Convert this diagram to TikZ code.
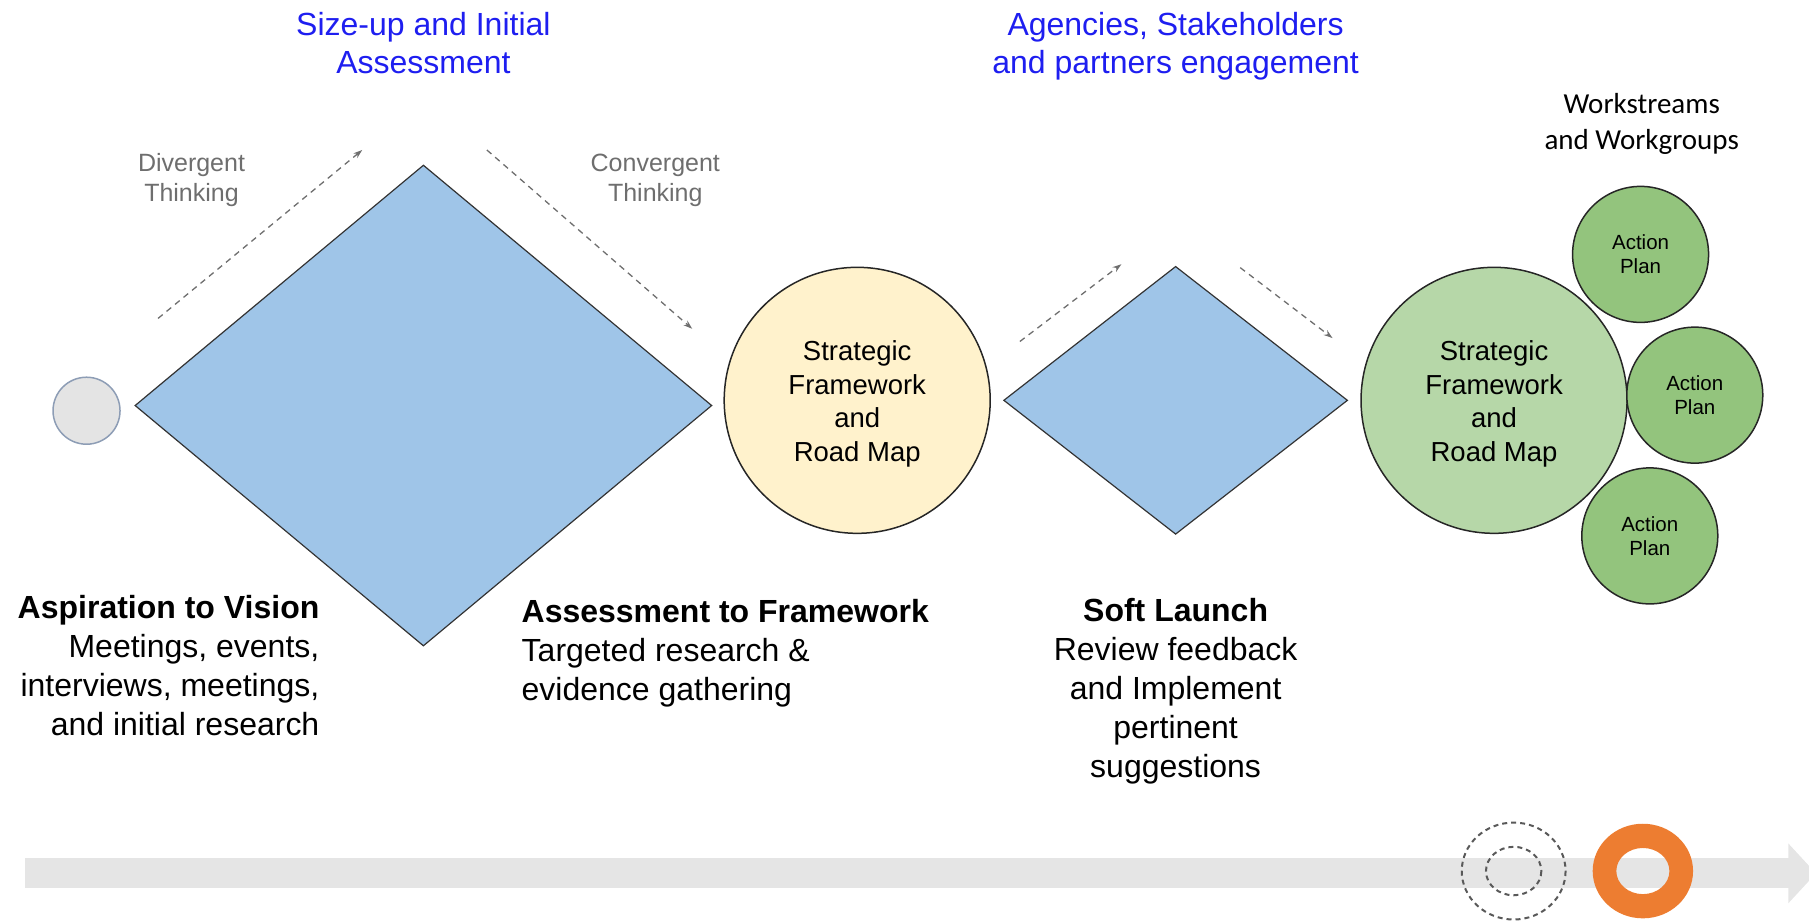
\documentclass[tikz,border=0pt]{standalone}
\usepackage{fontspec}
\setmainfont{Liberation Sans}
\newfontfamily\calfont{Carlito}
\usetikzlibrary{shapes.geometric,arrows.meta}
\definecolor{dblue}{HTML}{9FC5E8}
\definecolor{lyellow}{HTML}{FFF2CC}
\definecolor{lgreen}{HTML}{B6D7A8}
\definecolor{mgreen}{HTML}{93C47D}
\definecolor{tblue}{RGB}{30,30,240}
\definecolor{tlgray}{HTML}{E5E5E5}
\definecolor{orng}{HTML}{ED7D31}
\definecolor{startfill}{HTML}{E4E4E4}
\definecolor{startdraw}{HTML}{8D9DB5}
\definecolor{thinkgray}{HTML}{6E6E6E}
\tikzset{
  dia/.style={diamond, draw=black!80, line width=1.2pt, fill=dblue, inner sep=0pt},
  circ/.style={circle, draw=black!85, line width=1.5pt, inner sep=0pt, minimum size=266pt},
  circtext/.style={inner sep=0pt, align=center, font=\fontsize{27.5}{33.5}\selectfont, yshift=-3.5pt},
  apcirc/.style={circle, draw=black!85, line width=1.5pt, inner sep=0pt, align=center, fill=mgreen, minimum size=136pt, font=\fontsize{20.5}{24}\selectfont},
  darrow/.style={draw=thinkgray, line width=1.3pt, dash pattern=on 6pt off 5pt, -{Stealth[length=9pt,width=6pt]}},
  ttl/.style={text=tblue, align=center, font=\fontsize{32}{38}\selectfont, inner sep=0pt},
  think/.style={text=thinkgray, align=center, font=\fontsize{25}{30}\selectfont, inner sep=0pt},
  body/.style={inner sep=0pt, font=\fontsize{32}{39}\selectfont}
}
\begin{document}
\begin{tikzpicture}[x=1.1537pt,y=-1.1537pt]
\useasboundingbox (0,0) rectangle (1568,799);

% timeline
\fill[tlgray] (22,744) rectangle (1551,770);
\fill[tlgray] (1550,731) -- (1574,757) -- (1550,783) -- cycle;
\draw[draw=black!65, line width=2pt, dash pattern=on 5pt off 4pt] (1312,755) ellipse [x radius=45, y radius=42];
\draw[draw=black!65, line width=2pt, dash pattern=on 5pt off 4pt] (1312,755) ellipse [x radius=24, y radius=21];
\fill[orng, even odd rule] (1424,755) ellipse [x radius=43.5, y radius=41] (1424,755) ellipse [x radius=23, y radius=20];

% titles
\node[ttl] (t1) at (367,37.5) {Size-up and Initial\\Assessment};
\node[ttl] (t2) at (1019,40.5) {Agencies, Stakeholders\\and partners engagement};
\node[inner sep=0pt, align=center, font=\calfont\fontsize{29}{36}\selectfont] (t3) at (1423,107.5) {Workstreams\\and Workgroups};

% thinking labels
\node[think] (dv) at (166,156) {Divergent\\Thinking};
\node[think] (cv) at (568,156) {Convergent\\Thinking};

% shapes
\node[circle, draw=startdraw, line width=1.5pt, fill=startfill, minimum size=67pt, inner sep=0pt] (start) at (75,356) {};
\node[dia, minimum width=577pt, minimum height=481pt] (d1) at (367,351.5) {};
\node[circ, fill=lyellow, label={[circtext]center:Strategic\\Framework\\and\\Road Map}] (sf1) at (743,347) {};
\node[dia, minimum width=344pt, minimum height=268pt] (d2) at (1019,347) {};
\node[circ, fill=lgreen, label={[circtext]center:Strategic\\Framework\\and\\Road Map}] (sf2) at (1295,347) {};
\node[apcirc] (ap1) at (1422,220.5) {Action\\Plan};
\node[apcirc] (ap2) at (1469,342.5) {Action\\Plan};
\node[apcirc] (ap3) at (1430,464.5) {Action\\Plan};

% dashed arrows
\coordinate (a1s) at (137,276); \coordinate (a1e) at (314,130);
\coordinate (a2s) at (422,130); \coordinate (a2e) at (600,285);
\coordinate (a3s) at (884,296); \coordinate (a3e) at (972,229);
\coordinate (a4s) at (1075,232); \coordinate (a4e) at (1155,293);
\draw[darrow] (a1s) -- (a1e);
\draw[darrow] (a2s) -- (a2e);
\draw[darrow] (a3s) -- (a3e);
\draw[darrow] (a4s) -- (a4e);

% bottom texts
\node[body, anchor=east, align=right] (b1) at (277,577) {\textbf{Aspiration to Vision}\\Meetings, events,\\interviews, meetings,\\and initial research};
\node[body, anchor=west, align=left] (b2) at (452,566) {\textbf{Assessment to Framework}\\Targeted research \&\\evidence gathering};
\node[body, align=center] (b3) at (1019,599.5) {\textbf{Soft Launch}\\Review feedback\\and Implement\\pertinent\\suggestions};
\end{tikzpicture}
\end{document}
